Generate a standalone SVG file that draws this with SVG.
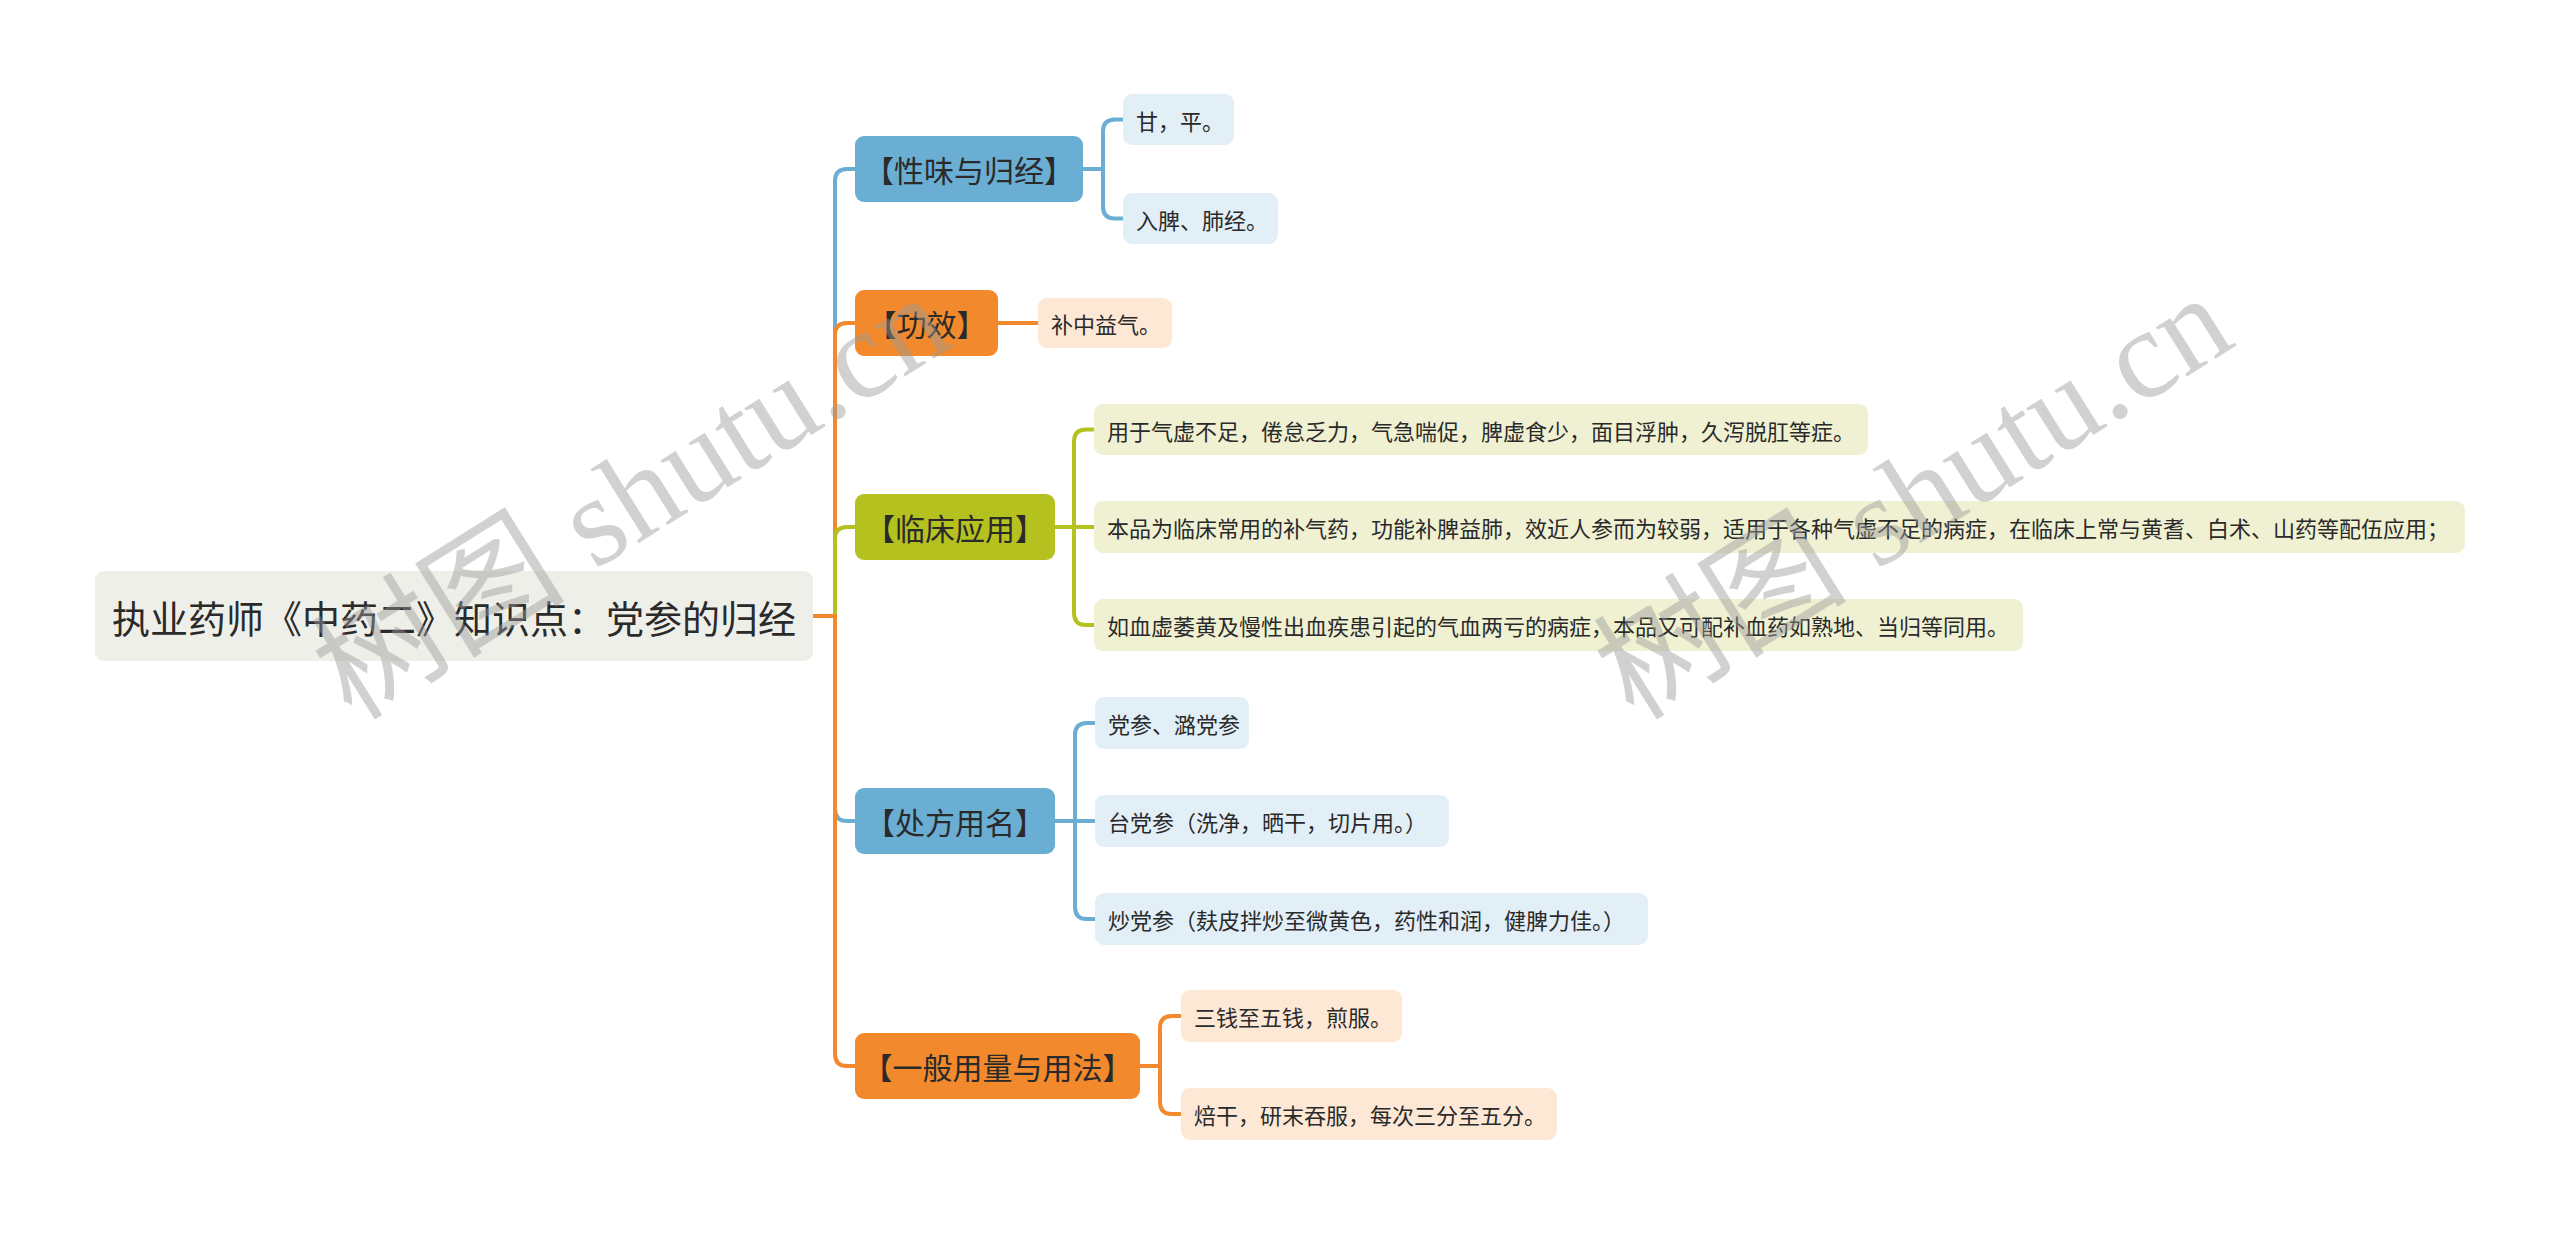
<svg xmlns="http://www.w3.org/2000/svg" width="2560" height="1234" viewBox="0 0 2560 1234">
<style>
.t{font-family:"Noto Sans CJK SC","Liberation Sans",sans-serif;dominant-baseline:central}
.root{font-size:38px;fill:#2a2a2a;text-anchor:middle}
.main{font-size:30px;fill:#2a2a2a;text-anchor:middle}
.leaf{font-size:22px;fill:#2a2a2a}
.blue{fill:#6aaed3}.orange{fill:#f28a2d}.green{fill:#b5c11e}
.lblue{fill:#e2eff7}.lorange{fill:#fde8d6}.lgreen{fill:#f0f1d3}
.c{fill:none;stroke-width:4;stroke-linecap:butt}
.cb{stroke:#6aaed3}.co{stroke:#f28a2d}.cg{stroke:#b5c11e}
.wm{font-family:"Liberation Serif","Noto Sans CJK SC",serif;font-size:127px;fill:#9a9a9a;fill-opacity:0.45}
</style>
<rect width="2560" height="1234" fill="#ffffff"/>
<g id="connectors">
<path class="c cb" d="M813 616 H835 V181 Q835 169 847 169 H855"/>
<path class="c co" d="M813 616 H835 V335 Q835 323 847 323 H855"/>
<path class="c cg" d="M813 616 H835 V539 Q835 527 847 527 H855"/>
<path class="c cb" d="M813 616 H835 V809 Q835 821 847 821 H855"/>
<path class="c co" d="M813 616 H835 V1054 Q835 1066 847 1066 H855"/>
<path class="c cb" d="M1083 169 H1103 V131.5 Q1103 119.5 1115 119.5 H1123"/>
<path class="c cb" d="M1083 169 H1103 V206.5 Q1103 218.5 1115 218.5 H1123"/>
<path class="c co" d="M998 323 H1038"/>
<path class="c cg" d="M1055 527 H1074 V441.5 Q1074 429.5 1086 429.5 H1094"/>
<path class="c cg" d="M1055 527 H1094"/>
<path class="c cg" d="M1055 527 H1074 V613 Q1074 625 1086 625 H1094"/>
<path class="c cb" d="M1055 821 H1075 V735 Q1075 723 1087 723 H1095"/>
<path class="c cb" d="M1055 821 H1095"/>
<path class="c cb" d="M1055 821 H1075 V907 Q1075 919 1087 919 H1095"/>
<path class="c co" d="M1140 1066 H1160 V1028 Q1160 1016 1172 1016 H1181"/>
<path class="c co" d="M1140 1066 H1160 V1102 Q1160 1114 1172 1114 H1181"/>
</g>
<g id="root"><rect x="95" y="571" width="718" height="90" rx="9" fill="#efefe9"/><text class="t root" x="454" y="616">执业药师《中药二》知识点：党参的归经</text></g>
<g id="n1"><rect class="blue" x="855" y="136" width="228" height="66" rx="9"/><text class="t main" x="969" y="169">【性味与归经】</text></g>
<g id="n1a"><rect class="lblue" x="1123" y="94" width="111" height="51" rx="9"/><text class="t leaf" x="1136" y="119.5">甘，平。</text></g>
<g id="n1b"><rect class="lblue" x="1123" y="193" width="155" height="51" rx="9"/><text class="t leaf" x="1136" y="218.5">入脾、肺经。</text></g>
<g id="n2"><rect class="orange" x="855" y="290" width="143" height="66" rx="9"/><text class="t main" x="926.5" y="323">【功效】</text></g>
<g id="n2a"><rect class="lorange" x="1038" y="298" width="134" height="50" rx="9"/><text class="t leaf" x="1051" y="323">补中益气。</text></g>
<g id="n3"><rect class="green" x="855" y="494" width="200" height="66" rx="9"/><text class="t main" x="955" y="527">【临床应用】</text></g>
<g id="n3a"><rect class="lgreen" x="1094" y="404" width="774" height="51" rx="9"/><text class="t leaf" x="1107" y="429.5">用于气虚不足，倦怠乏力，气急喘促，脾虚食少，面目浮肿，久泻脱肛等症。</text></g>
<g id="n3b"><rect class="lgreen" x="1094" y="501" width="1371" height="52" rx="9"/><text class="t leaf" x="1107" y="527">本品为临床常用的补气药，功能补脾益肺，效近人参而为较弱，适用于各种气虚不足的病症，在临床上常与黄耆、白术、山药等配伍应用；</text></g>
<g id="n3c"><rect class="lgreen" x="1094" y="599" width="929" height="52" rx="9"/><text class="t leaf" x="1107" y="625">如血虚萎黄及慢性出血疾患引起的气血两亏的病症，本品又可配补血药如熟地、当归等同用。</text></g>
<g id="n4"><rect class="blue" x="855" y="788" width="200" height="66" rx="9"/><text class="t main" x="955" y="821">【处方用名】</text></g>
<g id="n4a"><rect class="lblue" x="1095" y="697" width="154" height="52" rx="9"/><text class="t leaf" x="1108" y="723">党参、潞党参</text></g>
<g id="n4b"><rect class="lblue" x="1095" y="795" width="354" height="52" rx="9"/><text class="t leaf" x="1108" y="821">台党参（洗净，晒干，切片用。）</text></g>
<g id="n4c"><rect class="lblue" x="1095" y="893" width="553" height="52" rx="9"/><text class="t leaf" x="1108" y="919">炒党参（麸皮拌炒至微黄色，药性和润，健脾力佳。）</text></g>
<g id="n5"><rect class="orange" x="855" y="1033" width="285" height="66" rx="9"/><text class="t main" x="997.5" y="1066">【一般用量与用法】</text></g>
<g id="n5a"><rect class="lorange" x="1181" y="990" width="221" height="52" rx="9"/><text class="t leaf" x="1194" y="1016">三钱至五钱，煎服。</text></g>
<g id="n5b"><rect class="lorange" x="1181" y="1088" width="376" height="52" rx="9"/><text class="t leaf" x="1194" y="1114">焙干，研末吞服，每次三分至五分。</text></g>
<g id="watermarks">
<text class="wm" transform="translate(352 722) rotate(-32)">树图 shutu.cn</text>
<text class="wm" transform="translate(1634 722) rotate(-32)">树图 shutu.cn</text>
</g>
</svg>
